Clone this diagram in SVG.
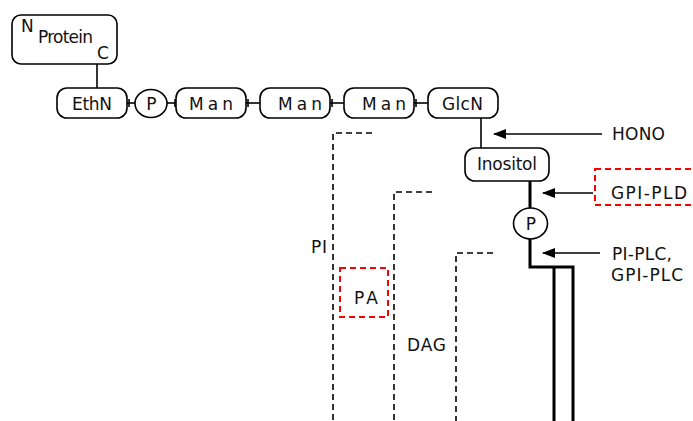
<svg xmlns="http://www.w3.org/2000/svg" width="693" height="421" viewBox="0 0 693 421">
<style>
  .box { fill: #fff; stroke: #000; stroke-width: 1.6; }
  .t { font-family: "DejaVu Sans", "Liberation Sans", sans-serif; font-size: 17px; fill: #111; }
  .ln { stroke: #000; stroke-width: 1.6; fill: none; }
  .thick { stroke: #000; stroke-width: 3; fill: none; }
  .dash { stroke: #000; stroke-width: 1.6; fill: none; stroke-dasharray: 6 4; }
  .red { stroke: #f00; stroke-width: 2; fill: none; stroke-dasharray: 6 4; }
</style>
<defs>
  <marker id="ah" markerWidth="14" markerHeight="11" refX="12" refY="5.5" orient="auto" markerUnits="userSpaceOnUse">
    <polygon points="0,0.5 13,5.5 0,10.5" fill="#000"/>
  </marker>
</defs>
<rect width="693" height="421" fill="#fff"/>

<g id="connectors">
  <line class="ln" x1="97" y1="64" x2="97" y2="88"/>
  <line class="ln" x1="127" y1="103" x2="135" y2="103"/>
  <line class="ln" x1="129" y1="99" x2="129" y2="107"/>
  <line class="ln" x1="167" y1="103" x2="176" y2="103"/>
  <line class="ln" x1="175" y1="99" x2="175" y2="107"/>
  <line class="ln" x1="246" y1="103" x2="260" y2="103"/>
  <line class="ln" x1="248" y1="99" x2="248" y2="107"/>
  <line class="ln" x1="330" y1="103" x2="344" y2="103"/>
  <line class="ln" x1="332" y1="99" x2="332" y2="107"/>
  <line class="ln" x1="414" y1="103" x2="428" y2="103"/>
  <line class="ln" x1="416" y1="99" x2="416" y2="107"/>
  <line class="ln" x1="481" y1="118" x2="481" y2="148"/>
  <line class="thick" x1="530" y1="181" x2="530" y2="208"/>
  <path class="thick" d="M530 239 V267 H573 V421"/>
  <line class="thick" x1="554" y1="267" x2="554" y2="421"/>
  <line class="ln" x1="602" y1="134" x2="494" y2="134" marker-end="url(#ah)"/>
  <line class="ln" x1="593" y1="193" x2="543" y2="193" marker-end="url(#ah)"/>
  <line class="ln" x1="600" y1="253" x2="543" y2="253" marker-end="url(#ah)"/>
  <path class="dash" d="M372 133 H333 V421"/>
  <path class="dash" d="M432 192 H394 V421"/>
  <path class="dash" d="M493 253 H456 V421"/>
</g>

<g id="protein">
  <rect class="box" x="12" y="15" width="105" height="49" rx="9"/>
  <text class="t" x="21" y="32">N</text>
  <text class="t" x="38" y="43" textLength="55" lengthAdjust="spacing">Protein</text>
  <text class="t" x="97" y="59">C</text>
</g>
<g id="ethn">
  <rect class="box" x="57" y="88" width="70" height="30" rx="10"/>
  <text class="t" x="72" y="110" textLength="40" lengthAdjust="spacing">EthN</text>
</g>
<g id="p1">
  <ellipse class="box" cx="151" cy="103.5" rx="16" ry="14"/>
  <text class="t" x="151.5" y="110" text-anchor="middle">P</text>
</g>
<g id="man1">
  <rect class="box" x="176" y="88" width="70" height="30" rx="10"/>
  <text class="t" x="189" y="110" textLength="44" lengthAdjust="spacing">Man</text>
</g>
<g id="man2">
  <rect class="box" x="260" y="88" width="70" height="30" rx="10"/>
  <text class="t" x="278" y="110" textLength="44" lengthAdjust="spacing">Man</text>
</g>
<g id="man3">
  <rect class="box" x="344" y="88" width="70" height="30" rx="10"/>
  <text class="t" x="362" y="110" textLength="44" lengthAdjust="spacing">Man</text>
</g>
<g id="glcn">
  <rect class="box" x="428" y="88" width="70" height="30" rx="10"/>
  <text class="t" x="442" y="110" textLength="41" lengthAdjust="spacing">GlcN</text>
</g>
<g id="inositol">
  <rect class="box" x="465" y="148" width="84" height="33" rx="10"/>
  <text class="t" x="477" y="170" textLength="60" lengthAdjust="spacing">Inositol</text>
</g>
<g id="p2">
  <ellipse class="box" cx="530.5" cy="223.5" rx="17" ry="15.5"/>
  <text class="t" x="531" y="229.5" text-anchor="middle">P</text>
</g>
<g id="hono">
  <text class="t" x="612" y="140" textLength="53" lengthAdjust="spacing">HONO</text>
</g>
<g id="gpi-pld">
  <rect class="red" x="595" y="169" width="110" height="36"/>
  <text class="t" x="611" y="199" textLength="76" lengthAdjust="spacing">GPI-PLD</text>
</g>
<g id="pi-plc">
  <text class="t" x="612" y="260" textLength="60" lengthAdjust="spacing">PI-PLC,</text>
  <text class="t" x="611" y="281" textLength="72" lengthAdjust="spacing">GPI-PLC</text>
</g>
<g id="pi">
  <text class="t" x="311" y="253" textLength="16" lengthAdjust="spacing">PI</text>
</g>
<g id="pa">
  <rect class="red" x="340" y="268" width="48" height="49"/>
  <text class="t" x="354" y="304" textLength="24" lengthAdjust="spacing">PA</text>
</g>
<g id="dag">
  <text class="t" x="407" y="351" textLength="39" lengthAdjust="spacing">DAG</text>
</g>
</svg>
